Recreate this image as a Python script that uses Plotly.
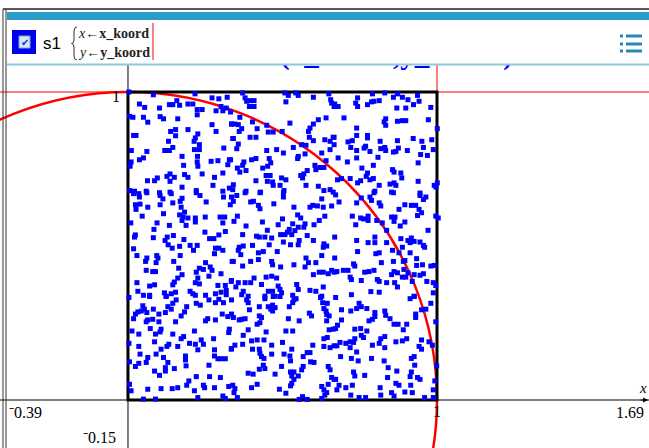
import plotly.graph_objects as go

# Simulated sample points (x_koord, y_koord) in the unit square
samples = [
    # upper-left block
    (0.003, 1.000), (0.082, 0.991), (0.217, 0.994), (0.272, 0.981), (0.294, 0.978), (0.321, 0.983),
    (0.037, 0.961), (0.054, 0.950), (0.102, 0.948), (0.134, 0.959), (0.145, 0.959), (0.158, 0.972),
    (0.167, 0.957), (0.194, 0.961), (0.210, 0.961), (0.224, 0.943), (0.240, 0.943), (0.285, 0.939),
    (0.301, 0.953), (0.307, 0.939), (0.318, 0.948), (0.332, 0.935), (0.005, 0.921), (0.016, 0.918),
    (0.050, 0.918), (0.104, 0.920), (0.115, 0.913), (0.161, 0.913), (0.224, 0.926), (0.064, 0.902),
    (0.272, 0.894), (0.335, 0.896), (0.154, 0.878), (0.138, 0.872), (0.194, 0.878), (0.226, 0.864),
    (0.218, 0.851), (0.285, 0.872), (0.026, 0.859), (0.018, 0.859), (0.154, 0.858), (0.131, 0.840),
    (0.231, 0.829), (0.214, 0.840), (0.339, 0.849), (0.145, 0.820), (0.119, 0.810), (0.134, 0.810),
    (0.215, 0.813), (0.231, 0.813), (0.310, 0.818), (0.011, 0.810), (0.061, 0.807), (0.175, 0.791),
    (0.225, 0.791), (0.224, 0.773), (0.269, 0.775), (0.291, 0.777), (0.328, 0.780), (0.037, 0.780),
    (0.050, 0.786), (0.010, 0.773), (0.007, 0.759), (0.180, 0.762), (0.226, 0.759), (0.323, 0.764),
    (0.307, 0.737), (0.240, 0.734), (0.136, 0.734), (0.126, 0.726), (0.150, 0.723), (0.183, 0.732),
    (0.194, 0.723), (0.095, 0.721), (0.086, 0.712), (0.063, 0.712), (0.136, 0.710), (0.280, 0.723),
    (0.275, 0.697), (0.175, 0.691), (0.005, 0.680), (0.021, 0.678), (0.059, 0.678), (0.102, 0.673),
    (0.136, 0.675), (0.221, 0.680), (0.328, 0.688), (0.307, 0.678),
    # upper-middle block
    (0.371, 0.997), (0.379, 0.981), (0.384, 0.970), (0.395, 0.972), (0.408, 0.972), (0.393, 0.953),
    (0.408, 0.953), (0.508, 0.997), (0.519, 0.989), (0.543, 0.997), (0.551, 0.989), (0.511, 0.968),
    (0.600, 0.983), (0.650, 0.994), (0.656, 0.975), (0.659, 0.964), (0.667, 0.953), (0.362, 0.918),
    (0.403, 0.903), (0.335, 0.896), (0.346, 0.896), (0.357, 0.894), (0.368, 0.881), (0.360, 0.872),
    (0.449, 0.892), (0.418, 0.881), (0.454, 0.870), (0.470, 0.870), (0.499, 0.872), (0.524, 0.899),
    (0.600, 0.896), (0.589, 0.883), (0.584, 0.872), (0.616, 0.910), (0.641, 0.916), (0.395, 0.853),
    (0.414, 0.853), (0.341, 0.849), (0.357, 0.831), (0.352, 0.816), (0.587, 0.853), (0.600, 0.842),
    (0.637, 0.845), (0.654, 0.840), (0.664, 0.853), (0.562, 0.829), (0.576, 0.827), (0.535, 0.820),
    (0.481, 0.813), (0.449, 0.810), (0.503, 0.802), (0.573, 0.799), (0.551, 0.791), (0.549, 0.784),
    (0.627, 0.802), (0.654, 0.813), (0.332, 0.780), (0.457, 0.784), (0.462, 0.770), (0.452, 0.759),
    (0.436, 0.753), (0.414, 0.784), (0.400, 0.780), (0.375, 0.773), (0.371, 0.762), (0.354, 0.753),
    (0.362, 0.740), (0.382, 0.745), (0.641, 0.777), (0.605, 0.762), (0.621, 0.755), (0.634, 0.755),
    (0.608, 0.748), (0.580, 0.745), (0.569, 0.734), (0.559, 0.729), (0.565, 0.721), (0.447, 0.729),
    (0.460, 0.729), (0.497, 0.721), (0.511, 0.715), (0.451, 0.710), (0.468, 0.708), (0.470, 0.697),
    (0.492, 0.697), (0.414, 0.712), (0.341, 0.699), (0.339, 0.683), (0.382, 0.678), (0.429, 0.675),
    (0.505, 0.680), (0.576, 0.697), (0.616, 0.694), (0.634, 0.680), (0.654, 0.683), (0.664, 0.675),
    # upper-right block
    (0.791, 0.994), (0.831, 0.997), (0.872, 0.994), (0.859, 0.983), (0.888, 0.983), (0.906, 0.975),
    (0.937, 0.989), (0.942, 0.970), (0.743, 0.981), (0.737, 0.964), (0.743, 0.953), (0.775, 0.959),
    (0.788, 0.968), (0.796, 0.970), (0.813, 0.972), (0.680, 0.953), (0.669, 0.961), (0.870, 0.948),
    (0.899, 0.948), (0.924, 0.959), (0.980, 0.950), (0.699, 0.916), (0.834, 0.913), (0.829, 0.903),
    (0.834, 0.892), (0.872, 0.905), (0.888, 0.907), (0.899, 0.907), (0.972, 0.910), (0.740, 0.883),
    (1.001, 0.881), (0.667, 0.853), (0.740, 0.859), (0.775, 0.859), (0.775, 0.851), (0.726, 0.842),
    (0.712, 0.838), (0.721, 0.820), (0.816, 0.840), (0.872, 0.842), (0.923, 0.849), (0.951, 0.840),
    (0.983, 0.845), (0.667, 0.829), (0.740, 0.810), (0.764, 0.818), (0.769, 0.824), (0.783, 0.807),
    (0.818, 0.816), (0.831, 0.820), (0.834, 0.810), (0.859, 0.805), (0.867, 0.807), (0.875, 0.818),
    (0.904, 0.810), (0.956, 0.820), (0.988, 0.813), (0.680, 0.786), (0.740, 0.786), (0.809, 0.788),
    (0.947, 0.797), (0.969, 0.794), (0.710, 0.773), (0.794, 0.762), (0.939, 0.770), (0.757, 0.753),
    (0.775, 0.737), (0.771, 0.726), (0.856, 0.748), (0.861, 0.740), (0.883, 0.737), (0.886, 0.721),
    (0.678, 0.715), (0.691, 0.719), (0.719, 0.719), (0.783, 0.715), (0.794, 0.719), (0.753, 0.712),
    (0.743, 0.705), (0.848, 0.701), (0.861, 0.705), (0.867, 0.697), (0.813, 0.697), (0.939, 0.710),
    (0.991, 0.697), (1.001, 0.705), (0.997, 0.691), (0.799, 0.678), (0.853, 0.675), (0.945, 0.672),
    # middle-left block
    (0.037, 0.659), (0.035, 0.670), (0.018, 0.670), (0.061, 0.673), (0.104, 0.664), (0.113, 0.653),
    (0.140, 0.670), (0.175, 0.655), (0.169, 0.645), (0.233, 0.664), (0.221, 0.673), (0.253, 0.643),
    (0.309, 0.659), (0.331, 0.634), (0.024, 0.634), (0.039, 0.636), (0.026, 0.619), (0.064, 0.626),
    (0.104, 0.634), (0.145, 0.640), (0.172, 0.626), (0.183, 0.610), (0.167, 0.601), (0.178, 0.594),
    (0.194, 0.591), (0.218, 0.591), (0.218, 0.578), (0.250, 0.594), (0.298, 0.594), (0.313, 0.594),
    (0.307, 0.575), (0.046, 0.597), (0.115, 0.605), (0.175, 0.583), (0.009, 0.575), (0.094, 0.575),
    (0.134, 0.567), (0.188, 0.567), (0.084, 0.554), (0.024, 0.536), (0.021, 0.529), (0.082, 0.527),
    (0.127, 0.529), (0.147, 0.534), (0.120, 0.518), (0.130, 0.504), (0.143, 0.493), (0.167, 0.499),
    (0.181, 0.521), (0.249, 0.545), (0.264, 0.524), (0.278, 0.524), (0.294, 0.536), (0.315, 0.547),
    (0.201, 0.502), (0.212, 0.486), (0.224, 0.502), (0.283, 0.493), (0.294, 0.493), (0.307, 0.486),
    (0.280, 0.475), (0.018, 0.491), (0.029, 0.469), (0.061, 0.461), (0.057, 0.450), (0.093, 0.469),
    (0.097, 0.461), (0.091, 0.446), (0.169, 0.469), (0.148, 0.450), (0.337, 0.450), (0.251, 0.446),
    (0.164, 0.428), (0.231, 0.428), (0.244, 0.424), (0.266, 0.432), (0.272, 0.421), (0.221, 0.415),
    (0.059, 0.421), (0.080, 0.417), (0.089, 0.417), (0.175, 0.407), (0.161, 0.396), (0.150, 0.383),
    (0.226, 0.396), (0.301, 0.410), (0.262, 0.402), (0.218, 0.381), (0.231, 0.377), (0.029, 0.381),
    (0.070, 0.370), (0.086, 0.374), (0.145, 0.374), (0.291, 0.372), (0.315, 0.372), (0.334, 0.385),
    (0.032, 0.353), (0.050, 0.340), (0.070, 0.340), (0.118, 0.348), (0.124, 0.337), (0.140, 0.345),
    (0.154, 0.350), (0.201, 0.353), (0.210, 0.345), (0.218, 0.340), (0.251, 0.340), (0.283, 0.345),
    (0.301, 0.350), (0.318, 0.356), (0.318, 0.342),
    # centre block
    (0.335, 0.659), (0.352, 0.664), (0.341, 0.645), (0.379, 0.673), (0.427, 0.673), (0.503, 0.673),
    (0.397, 0.643), (0.406, 0.645), (0.422, 0.632), (0.427, 0.621), (0.472, 0.637), (0.503, 0.659),
    (0.537, 0.626), (0.589, 0.626), (0.598, 0.632), (0.613, 0.630), (0.632, 0.626), (0.627, 0.653),
    (0.659, 0.630), (0.354, 0.597), (0.343, 0.580), (0.382, 0.565), (0.435, 0.578), (0.500, 0.588),
    (0.486, 0.569), (0.533, 0.572), (0.549, 0.601), (0.559, 0.591), (0.573, 0.572), (0.569, 0.561),
    (0.551, 0.561), (0.540, 0.550), (0.522, 0.554), (0.516, 0.545), (0.508, 0.537), (0.494, 0.537),
    (0.530, 0.537), (0.602, 0.569), (0.637, 0.597), (0.619, 0.583), (0.451, 0.551), (0.371, 0.537),
    (0.416, 0.532), (0.425, 0.529), (0.443, 0.529), (0.465, 0.526), (0.503, 0.513), (0.554, 0.518),
    (0.551, 0.504), (0.526, 0.504), (0.580, 0.534), (0.600, 0.518), (0.634, 0.507), (0.643, 0.500),
    (0.632, 0.496), (0.457, 0.504), (0.403, 0.502), (0.360, 0.496), (0.373, 0.500), (0.357, 0.486),
    (0.365, 0.472), (0.483, 0.482), (0.438, 0.482), (0.422, 0.478), (0.627, 0.469), (0.576, 0.461),
    (0.341, 0.450), (0.397, 0.450), (0.422, 0.456), (0.465, 0.450), (0.468, 0.439), (0.371, 0.435),
    (0.494, 0.432), (0.537, 0.439), (0.584, 0.446), (0.573, 0.432), (0.608, 0.446), (0.600, 0.407),
    (0.619, 0.415), (0.632, 0.415), (0.648, 0.410), (0.659, 0.421), (0.667, 0.415), (0.447, 0.399),
    (0.465, 0.402), (0.481, 0.396), (0.408, 0.396), (0.335, 0.388), (0.357, 0.381), (0.379, 0.381),
    (0.397, 0.381), (0.349, 0.367), (0.432, 0.375), (0.486, 0.370), (0.492, 0.359), (0.546, 0.375),
    (0.551, 0.359), (0.589, 0.356), (0.608, 0.353), (0.632, 0.367), (0.373, 0.353), (0.368, 0.342),
    (0.454, 0.353), (0.468, 0.353), (0.497, 0.348), (0.476, 0.337), (0.533, 0.340), (0.443, 0.337),
    (0.627, 0.337), (0.389, 0.337),
    # middle-right block
    (0.672, 0.666), (0.755, 0.656), (0.783, 0.659), (0.796, 0.673), (0.859, 0.673), (0.945, 0.664),
    (0.964, 0.659), (0.956, 0.651), (0.683, 0.643), (0.740, 0.640), (0.788, 0.648), (0.813, 0.640),
    (0.818, 0.630), (0.877, 0.619), (0.896, 0.634), (0.917, 0.632), (0.931, 0.632), (0.942, 0.619),
    (0.950, 0.608), (0.937, 0.599), (0.726, 0.597), (0.753, 0.591), (0.762, 0.588), (0.777, 0.597),
    (0.777, 0.583), (0.805, 0.583), (0.823, 0.575), (0.853, 0.594), (0.864, 0.594), (0.861, 0.580),
    (0.881, 0.565), (0.896, 0.578), (0.996, 0.597), (1.004, 0.591), (0.737, 0.569), (0.971, 0.551),
    (0.837, 0.551), (0.883, 0.524), (0.669, 0.529), (0.799, 0.529), (0.740, 0.518), (0.777, 0.511),
    (0.799, 0.511), (0.837, 0.511), (0.906, 0.518), (0.917, 0.526), (0.926, 0.515), (0.913, 0.511),
    (0.945, 0.513), (0.956, 0.502), (0.960, 0.496), (0.888, 0.496), (0.743, 0.482), (0.802, 0.475),
    (0.813, 0.478), (0.856, 0.486), (0.877, 0.478), (0.913, 0.478), (0.669, 0.461), (0.730, 0.442),
    (0.734, 0.435), (0.820, 0.446), (0.859, 0.450), (0.891, 0.450), (0.896, 0.453), (0.934, 0.459),
    (0.934, 0.437), (0.953, 0.439), (0.980, 0.435), (0.991, 0.437), (0.893, 0.424), (0.676, 0.417),
    (0.697, 0.421), (0.712, 0.421), (0.766, 0.415), (0.780, 0.417), (0.796, 0.421), (0.861, 0.417),
    (0.853, 0.407), (0.872, 0.413), (0.906, 0.413), (0.926, 0.407), (0.956, 0.410), (0.945, 0.405),
    (0.719, 0.399), (0.723, 0.391), (0.755, 0.388), (0.807, 0.391), (0.813, 0.385), (0.888, 0.399),
    (0.899, 0.399), (0.837, 0.381), (0.863, 0.381), (0.872, 0.367), (0.920, 0.385), (0.967, 0.385),
    (0.988, 0.381), (0.996, 0.372), (0.988, 0.348), (0.786, 0.352), (0.813, 0.350), (0.723, 0.342),
    (0.926, 0.337),
    # lower-left block
    (0.003, 0.333), (0.070, 0.336), (0.123, 0.336), (0.156, 0.325), (0.145, 0.314), (0.129, 0.303),
    (0.140, 0.295), (0.048, 0.306), (0.053, 0.295), (0.043, 0.289), (0.032, 0.286), (0.024, 0.279),
    (0.018, 0.264), (0.082, 0.295), (0.100, 0.279), (0.121, 0.284), (0.061, 0.284), (0.190, 0.303),
    (0.183, 0.286), (0.172, 0.273), (0.221, 0.314), (0.234, 0.308), (0.262, 0.325), (0.283, 0.316),
    (0.294, 0.327), (0.309, 0.316), (0.305, 0.279), (0.323, 0.271), (0.283, 0.260), (0.251, 0.257),
    (0.258, 0.264), (0.059, 0.254), (0.064, 0.260), (0.080, 0.262), (0.100, 0.254), (0.154, 0.254),
    (0.013, 0.224), (0.035, 0.214), (0.072, 0.232), (0.089, 0.214), (0.104, 0.221), (0.107, 0.230),
    (0.145, 0.214), (0.172, 0.199), (0.180, 0.206), (0.215, 0.224), (0.237, 0.195), (0.244, 0.181),
    (0.277, 0.199), (0.326, 0.219), (0.328, 0.230), (0.003, 0.184), (0.086, 0.189), (0.035, 0.174),
    (0.107, 0.165), (0.126, 0.174), (0.132, 0.181), (0.161, 0.174), (0.199, 0.184), (0.218, 0.181),
    (0.226, 0.163), (0.280, 0.163), (0.334, 0.165), (0.039, 0.149), (0.091, 0.149), (0.064, 0.138),
    (0.115, 0.138), (0.186, 0.143), (0.186, 0.130), (0.188, 0.111), (0.280, 0.143), (0.291, 0.134),
    (0.301, 0.134), (0.315, 0.134), (0.005, 0.124), (0.035, 0.119), (0.059, 0.122), (0.024, 0.109),
    (0.129, 0.122), (0.121, 0.105), (0.150, 0.102), (0.262, 0.113), (0.086, 0.094), (0.121, 0.094),
    (0.102, 0.080), (0.221, 0.076), (0.264, 0.076), (0.299, 0.073), (0.197, 0.062), (0.190, 0.048),
    (0.244, 0.048), (0.248, 0.040), (0.005, 0.051), (0.010, 0.030), (0.064, 0.035), (0.107, 0.037),
    (0.143, 0.037), (0.161, 0.040), (0.215, 0.030), (0.280, 0.040), (0.326, 0.044), (0.226, 0.008),
    (0.307, 0.013), (0.315, 0.005), (0.050, 0.003), (0.089, 0.003),
    # lower-middle block
    (0.335, 0.325), (0.384, 0.325), (0.389, 0.316), (0.443, 0.329), (0.470, 0.336), (0.492, 0.336),
    (0.537, 0.325), (0.544, 0.329), (0.533, 0.316), (0.623, 0.333), (0.630, 0.316), (0.645, 0.314),
    (0.425, 0.303), (0.454, 0.303), (0.468, 0.308), (0.462, 0.295), (0.476, 0.300), (0.468, 0.289),
    (0.522, 0.303), (0.393, 0.293), (0.335, 0.279), (0.341, 0.268), (0.360, 0.260), (0.368, 0.262),
    (0.379, 0.264), (0.425, 0.273), (0.432, 0.268), (0.427, 0.251), (0.418, 0.246), (0.519, 0.264),
    (0.554, 0.257), (0.587, 0.282), (0.594, 0.273), (0.634, 0.297), (0.641, 0.289), (0.643, 0.278),
    (0.651, 0.273), (0.643, 0.257), (0.664, 0.230), (0.651, 0.228), (0.389, 0.228), (0.447, 0.221),
    (0.511, 0.224), (0.533, 0.224), (0.373, 0.210), (0.400, 0.192), (0.418, 0.195), (0.440, 0.195),
    (0.500, 0.187), (0.371, 0.181), (0.346, 0.178), (0.335, 0.167), (0.634, 0.199), (0.645, 0.203),
    (0.634, 0.174), (0.654, 0.170), (0.667, 0.176), (0.598, 0.178), (0.465, 0.178), (0.403, 0.165),
    (0.425, 0.165), (0.530, 0.165), (0.427, 0.152), (0.432, 0.141), (0.440, 0.135), (0.465, 0.149),
    (0.505, 0.149), (0.524, 0.143), (0.526, 0.127), (0.567, 0.141), (0.580, 0.154), (0.589, 0.154),
    (0.591, 0.124), (0.602, 0.122), (0.438, 0.113), (0.425, 0.100), (0.443, 0.102), (0.497, 0.109),
    (0.567, 0.109), (0.562, 0.098), (0.648, 0.109), (0.654, 0.098), (0.389, 0.087), (0.405, 0.084),
    (0.476, 0.084), (0.526, 0.091), (0.537, 0.091), (0.530, 0.078), (0.537, 0.067), (0.551, 0.078),
    (0.530, 0.054), (0.526, 0.046), (0.659, 0.073), (0.667, 0.067), (0.648, 0.051), (0.339, 0.048),
    (0.346, 0.037), (0.343, 0.024), (0.354, 0.008), (0.418, 0.051), (0.400, 0.040), (0.490, 0.035),
    (0.511, 0.022), (0.627, 0.044), (0.634, 0.033), (0.643, 0.024), (0.637, 0.016), (0.627, 0.005),
    (0.565, 0.011), (0.554, 0.002), (0.580, 0.002),
    # lower-right block
    (0.672, 0.333), (0.691, 0.293), (0.721, 0.289), (0.740, 0.297), (0.748, 0.314), (0.755, 0.303),
    (0.773, 0.297), (0.799, 0.284), (0.831, 0.289), (0.834, 0.275), (0.848, 0.264), (0.913, 0.329),
    (0.926, 0.336), (0.980, 0.314), (0.950, 0.293), (0.964, 0.295), (0.931, 0.279), (0.931, 0.268),
    (0.691, 0.260), (0.678, 0.243), (0.672, 0.232), (0.780, 0.257), (0.791, 0.262), (0.799, 0.271),
    (0.861, 0.246), (0.874, 0.246), (0.902, 0.246), (0.891, 0.228), (0.996, 0.254), (0.734, 0.230),
    (0.753, 0.232), (0.773, 0.224), (0.755, 0.210), (0.762, 0.203), (0.686, 0.187), (0.705, 0.184),
    (0.719, 0.189), (0.734, 0.199), (0.730, 0.187), (0.676, 0.176), (0.719, 0.170), (0.818, 0.199),
    (0.831, 0.206), (0.813, 0.184), (0.831, 0.170), (0.791, 0.178), (0.867, 0.189), (0.888, 0.192),
    (0.902, 0.199), (0.950, 0.195), (0.942, 0.174), (0.950, 0.165), (0.974, 0.189), (0.985, 0.178),
    (0.688, 0.141), (0.723, 0.135), (0.740, 0.156), (0.745, 0.127), (0.788, 0.135), (0.829, 0.127),
    (0.842, 0.105), (0.870, 0.094), (0.917, 0.135), (0.926, 0.141), (0.928, 0.113), (0.999, 0.111),
    (0.730, 0.091), (0.734, 0.078), (0.766, 0.080), (0.840, 0.073), (0.917, 0.091), (0.913, 0.076),
    (0.937, 0.073), (0.945, 0.067), (0.672, 0.067), (0.683, 0.048), (0.705, 0.040), (0.726, 0.048),
    (0.676, 0.033), (0.867, 0.054), (0.877, 0.048), (0.816, 0.040), (0.915, 0.048), (0.993, 0.062),
    (0.988, 0.033), (0.818, 0.016), (0.853, 0.024), (0.861, 0.013), (0.896, 0.026), (0.920, 0.024),
    (0.721, 0.016), (0.748, 0.008), (0.769, 0.008), (0.960, 0.008), (0.988, 0.008),
]
x_koord = [p[0] for p in samples]
y_koord = [p[1] for p in samples]

# Graph window
x_min, x_max = -0.4142, 1.6861
y_min, y_max = -0.1558, 1.0877

# Tick labels shown at the window edges
x_min_label, x_max_label = "\u207b0.39", "1.69"
y_min_label = "\u207b0.15"

W, H = 649, 448
PLOT_TOP = 65  # header height in pixels

def px(x):
    return x / W

def py(y):
    return 1 - y / H

TEAL = "#2b9cc6"
BLUE = "#0000ff"
RED = "#ff0000"
SERIF = "Liberation Serif, Times New Roman, serif"
SANS = "Liberation Sans, Arial, sans-serif"

fig = go.Figure()

# Coordinate label of the plot, mostly hidden under the header
fig.add_trace(go.Scatter(
    x=[0.869], y=[1.114], mode="text",
    text=["<b>(x_koord,y_koord)</b>"],
    textposition="middle center",
    textfont=dict(family=SERIF, size=29, color=BLUE),
    cliponaxis=True, hoverinfo="skip", showlegend=False,
))

# Sample points
fig.add_trace(go.Scatter(
    x=x_koord, y=y_koord, mode="markers",
    marker=dict(symbol="square", size=5, color=BLUE, line=dict(width=0)),
    hoverinfo="skip", showlegend=False,
))

shapes = []
# axes
shapes.append(dict(type="line", xref="x", yref="y", x0=x_min, x1=x_max, y0=0, y1=0,
                   line=dict(color="black", width=1), layer="between"))
shapes.append(dict(type="line", xref="x", yref="y", x0=0, x1=0, y0=y_min, y1=y_max,
                   line=dict(color="black", width=1), layer="between"))
# tangent lines y = 1 and x = 1
shapes.append(dict(type="line", xref="x", yref="y", x0=x_min, x1=x_max, y0=1, y1=1,
                   line=dict(color=RED, width=1), layer="between"))
shapes.append(dict(type="line", xref="x", yref="y", x0=1, x1=1, y0=1, y1=y_max,
                   line=dict(color=RED, width=1), layer="between"))
# unit circle
shapes.append(dict(type="circle", xref="x", yref="y", x0=-1, y0=-1, x1=1, y1=1,
                   line=dict(color=RED, width=2.5), layer="between"))
# unit square
shapes.append(dict(type="rect", xref="x", yref="y", x0=0, y0=0, x1=1, y1=1,
                   line=dict(color="black", width=3), layer="between"))

# Header: frame, title bar, separator
shapes.append(dict(type="line", xref="paper", yref="paper", x0=px(3), x1=1, y0=py(9), y1=py(9),
                   line=dict(color="#222222", width=1.5), layer="above"))
shapes.append(dict(type="rect", xref="paper", yref="paper", x0=px(7), x1=1, y0=py(20), y1=py(12),
                   fillcolor=TEAL, line=dict(width=0), layer="above"))
shapes.append(dict(type="line", xref="paper", yref="paper", x0=px(7), x1=1, y0=py(64.5), y1=py(64.5),
                   line=dict(color="#8cc8e2", width=2), layer="above"))
for xl in (3, 6):
    shapes.append(dict(type="line", xref="paper", yref="paper", x0=px(xl), x1=px(xl), y0=0, y1=py(9),
                       line=dict(color="#333333", width=1), layer="above"))
# checkbox
shapes.append(dict(type="rect", xref="paper", yref="paper", x0=px(12), x1=px(36), y0=py(54), y1=py(30),
                   fillcolor="#0000ee", line=dict(width=0), layer="above"))
shapes.append(dict(type="rect", xref="paper", yref="paper", x0=px(19), x1=px(30), y0=py(48), y1=py(36),
                   fillcolor="#d6e6f2", line=dict(color="#7aa8d0", width=1), layer="above"))
# curly brace in front of the two assignments
brace = [(77, 27), (74, 27), (74, 31), (74, 40), (74, 43.5), (71.5, 43.5), (74, 43.5), (74, 47),
         (74, 56), (74, 60), (77, 60)]
b = [(px(u), py(v)) for u, v in brace]
brace_path = (f"M {b[0][0]},{b[0][1]} Q {b[1][0]},{b[1][1]} {b[2][0]},{b[2][1]} "
              f"L {b[3][0]},{b[3][1]} Q {b[4][0]},{b[4][1]} {b[5][0]},{b[5][1]} "
              f"Q {b[6][0]},{b[6][1]} {b[7][0]},{b[7][1]} L {b[8][0]},{b[8][1]} "
              f"Q {b[9][0]},{b[9][1]} {b[10][0]},{b[10][1]}")
shapes.append(dict(type="path", xref="paper", yref="paper", path=brace_path,
                   line=dict(color="#333333", width=1), layer="above"))
# text cursor
shapes.append(dict(type="line", xref="paper", yref="paper", x0=px(153), x1=px(153), y0=py(60), y1=py(23),
                   line=dict(color=RED, width=1), layer="above"))
# menu icon
for yy in (36, 44, 51):
    shapes.append(dict(type="rect", xref="paper", yref="paper", x0=px(620), x1=px(623), y0=py(yy + 1.5),
                       y1=py(yy - 1.5), fillcolor="#2a86b4", line=dict(width=0), layer="above"))
    shapes.append(dict(type="rect", xref="paper", yref="paper", x0=px(626), x1=px(642), y0=py(yy + 1.5),
                       y1=py(yy - 1.5), fillcolor="#2a86b4", line=dict(width=0), layer="above"))

annotations = [
    # header text
    dict(x=px(24.5), y=py(42), text="\u2714", font=dict(family="DejaVu Sans", size=10, color="#1030c0")),
    dict(x=px(41), y=py(43), text="s1", xanchor="left", font=dict(family=SANS, size=17, color="black")),
    dict(x=px(76), y=py(33), xanchor="left",
         text="<i>x</i>\u2190<b>x_koord</b>", font=dict(family=SERIF, size=14, color="#222222")),
    dict(x=px(76), y=py(52), xanchor="left",
         text="<i>y</i>\u2190<b>y_koord</b>", font=dict(family=SERIF, size=14, color="#222222")),
    # axis labels
    dict(x=px(7), y=py(412), xanchor="left", text=x_min_label, font=dict(family=SERIF, size=16, color="black")),
    dict(x=px(646), y=py(412), xanchor="right", text=x_max_label, font=dict(family=SERIF, size=16, color="black")),
    dict(x=px(118), y=py(437), xanchor="right", text=y_min_label, font=dict(family=SERIF, size=16, color="black")),
    dict(x=1, y=0, xref="x", yref="y", yshift=-11, text="1", font=dict(family=SERIF, size=16, color="black")),
    dict(x=0, y=1, xref="x", yref="y", xanchor="right", xshift=-6, yshift=-4, text="1",
         font=dict(family=SERIF, size=16, color="black")),
    dict(x=px(643), y=py(388), text="<i>x</i>", font=dict(family=SERIF, size=15, color="black")),
    # arrow at the end of the x axis
    dict(x=1.683, y=0, xref="x", yref="y", ax=-9, ay=0, showarrow=True, arrowhead=2,
         arrowsize=1, arrowwidth=1, arrowcolor="black", text=""),
]
for a in annotations:
    a.setdefault("xref", "paper")
    a.setdefault("yref", "paper")
    a.setdefault("showarrow", False)
    a.setdefault("xanchor", "center")
    a.setdefault("yanchor", "middle")

fig.update_layout(
    width=W, height=H,
    margin=dict(l=0, r=0, t=0, b=0),
    paper_bgcolor="white", plot_bgcolor="white",
    xaxis=dict(range=[x_min, x_max], domain=[0, 1], showgrid=False, zeroline=False,
               showticklabels=False, ticks="", showline=False, fixedrange=True),
    yaxis=dict(range=[y_min, y_max], domain=[0, 1 - PLOT_TOP / H], showgrid=False, zeroline=False,
               showticklabels=False, ticks="", showline=False, fixedrange=True),
    shapes=shapes,
    annotations=annotations,
    showlegend=False,
)

fig.write_html("out.html", config={"displayModeBar": False})
